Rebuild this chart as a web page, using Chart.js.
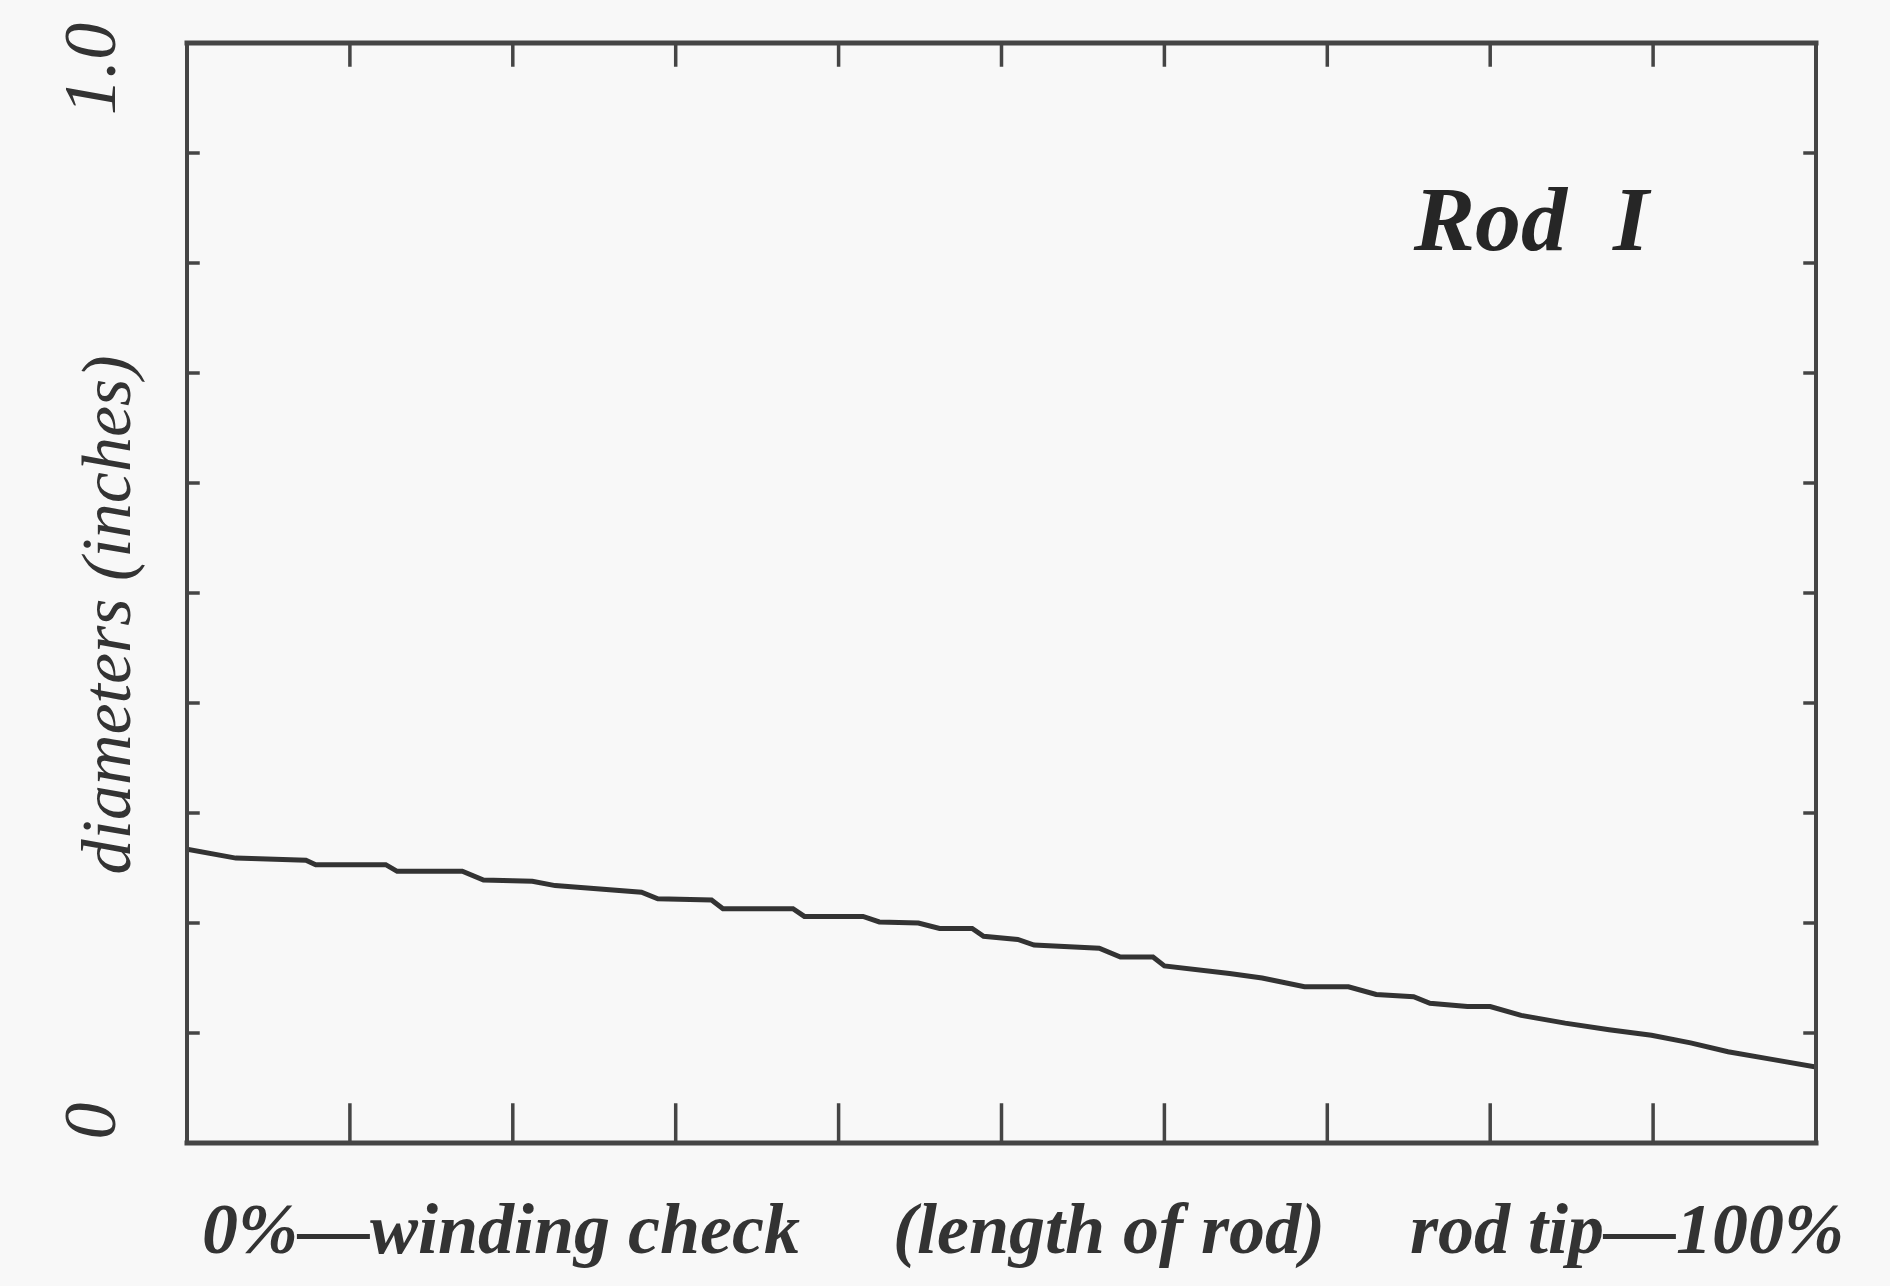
<!DOCTYPE html>
<html>
<head>
<meta charset="utf-8">
<style>
  html, body { margin: 0; padding: 0; background: #f8f8f8; }
  #wrap { width: 1890px; height: 1286px; }
</style>
<script src="https://cdn.jsdelivr.net/npm/chart.js@4/dist/chart.umd.min.js"></script>
</head>
<body>
<div id="wrap"><canvas id="c" width="1890" height="1286"></canvas></div>
<script>
// ---- data ----
const positionPct = [0, 3, 7.3, 7.9, 12.2, 12.9, 16.9, 18.2, 21.2, 22.6,
  27.9, 28.9, 32.2, 32.9, 37.2, 37.9, 41.5, 42.5, 44.9, 46.2,
  48.2, 48.9, 51, 52, 56, 57.3, 59.3, 60, 64, 66,
  68.6, 71.3, 73, 75.3, 76.3, 78.6, 80, 81.9, 84.6, 87.3,
  89.9, 92.3, 94.6, 97.3, 100];
const diameterIn = [0.267, 0.259, 0.257, 0.253, 0.253, 0.247, 0.247, 0.239, 0.238, 0.234,
  0.228, 0.222, 0.221, 0.213, 0.213, 0.206, 0.206, 0.201, 0.200, 0.195,
  0.195, 0.188, 0.185, 0.180, 0.177, 0.169, 0.169, 0.161, 0.154, 0.150,
  0.142, 0.142, 0.135, 0.133, 0.127, 0.124, 0.124, 0.116, 0.109, 0.103,
  0.098, 0.091, 0.083, 0.076, 0.069];
const xTickValues = [10, 20, 30, 40, 50, 60, 70, 80, 90];
const yTickValues = [0.1, 0.2, 0.3, 0.4, 0.5, 0.6, 0.7, 0.8, 0.9];
const yTickLabels = ["0", "1.0"];
const yTickLabelValues = [0, 1];
const yTitle = "diameters (inches)";
const xLabelParts = ["0%\u2014winding check", "(length of rod)", "rod tip\u2014100%"];
const panelLabel = "Rod  I";

const INK = '#333333';
const SERIF = '"Liberation Serif", "DejaVu Serif", serif';

const framePlugin = {
  id: 'frame',
  afterDatasetsDraw(chart) {
    const ctx = chart.ctx;
    const a = chart.chartArea;
    const xs = chart.scales.x, ys = chart.scales.y;
    ctx.save();
    ctx.strokeStyle = '#454545';
    ctx.lineCap = 'square';
    // frame
    ctx.lineWidth = 5;
    ctx.beginPath();
    ctx.moveTo(a.left, a.top); ctx.lineTo(a.right, a.top);
    ctx.moveTo(a.left, a.bottom); ctx.lineTo(a.right, a.bottom);
    ctx.stroke();
    ctx.lineWidth = 4;
    ctx.beginPath();
    ctx.moveTo(a.left, a.top); ctx.lineTo(a.left, a.bottom);
    ctx.moveTo(a.right, a.top); ctx.lineTo(a.right, a.bottom);
    ctx.stroke();
    // inward ticks
    ctx.lineWidth = 3.5;
    ctx.beginPath();
    xTickValues.forEach(v => {
      const px = xs.getPixelForValue(v);
      ctx.moveTo(px, a.bottom); ctx.lineTo(px, a.bottom - 38);
      ctx.moveTo(px, a.top); ctx.lineTo(px, a.top + 22);
    });
    yTickValues.forEach(v => {
      const py = ys.getPixelForValue(v);
      ctx.moveTo(a.left, py); ctx.lineTo(a.left + 11, py);
      ctx.moveTo(a.right, py); ctx.lineTo(a.right - 11, py);
    });
    ctx.stroke();
    // texts
    ctx.fillStyle = INK;
    // y tick labels (rotated)
    ctx.font = 'italic 74px ' + SERIF;
    ctx.textAlign = 'center';
    ctx.textBaseline = 'middle';
    yTickLabels.forEach((t, i) => {
      const py = ys.getPixelForValue(yTickLabelValues[i]);
      const cy = i === 0 ? py - 22 : py + 26;
      ctx.save();
      ctx.translate(96, cy);
      ctx.rotate(-Math.PI / 2);
      ctx.fillText(t, 0, 0);
      ctx.restore();
    });
    // y title
    ctx.save();
    ctx.font = 'italic 70px ' + SERIF;
    ctx.translate(112, (a.top + a.bottom) / 2 + 22);
    ctx.rotate(-Math.PI / 2);
    ctx.fillText(yTitle, 0, 0);
    ctx.restore();
    // x label parts
    ctx.font = 'italic bold 72px ' + SERIF;
    ctx.textBaseline = 'alphabetic';
    const by = a.bottom + 110;
    ctx.textAlign = 'left';
    ctx.fillText(xLabelParts[0], xs.getPixelForValue(0) + 15, by);
    ctx.textAlign = 'center';
    ctx.fillText(xLabelParts[1], xs.getPixelForValue(56.6), by);
    ctx.textAlign = 'right';
    ctx.fillText(xLabelParts[2], xs.getPixelForValue(100) + 28, by);
    // panel label
    ctx.font = 'italic bold 92px ' + SERIF;
    ctx.textAlign = 'left';
    ctx.fillStyle = '#262626';
    ctx.fillText(panelLabel, xs.getPixelForValue(75.3), ys.getPixelForValue(0.812));
    ctx.restore();
  }
};

new Chart(document.getElementById('c'), {
  type: 'line',
  data: {
    datasets: [{
      data: positionPct.map((x, i) => ({ x: x, y: diameterIn[i] })),
      borderColor: INK,
      borderWidth: 5,
      pointRadius: 0,
      tension: 0,
      fill: false
    }]
  },
  options: {
    responsive: false,
    animation: false,
    devicePixelRatio: 1,
    layout: { padding: { left: 187, right: 74, top: 43, bottom: 143 } },
    plugins: { legend: { display: false }, tooltip: { enabled: false } },
    scales: {
      x: { type: 'linear', min: 0, max: 100, display: false },
      y: { type: 'linear', min: 0, max: 1, display: false }
    }
  },
  plugins: [framePlugin]
});
</script>
</body>
</html>
